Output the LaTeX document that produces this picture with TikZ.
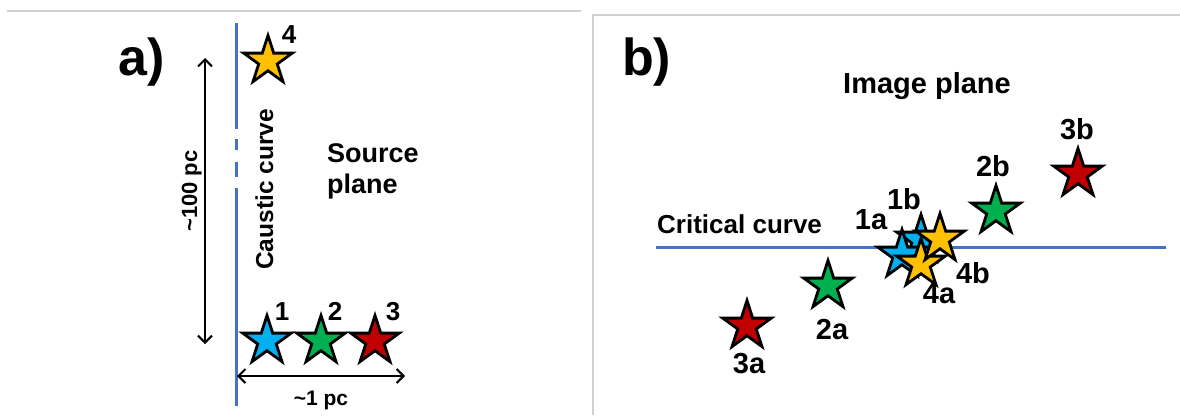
\documentclass[tikz,border=0pt]{standalone}
\usepackage{fontspec}
\setmainfont{Liberation Sans}
\usetikzlibrary{shapes.geometric,arrows.meta}
\definecolor{starblue}{HTML}{00B0F0}
\definecolor{stargreen}{HTML}{00B050}
\definecolor{starred}{HTML}{C00000}
\definecolor{staryellow}{HTML}{FFC000}
\definecolor{curveblue}{HTML}{4472C4}
\definecolor{framegray}{HTML}{D0D0D0}
\tikzset{
  starnode/.style={star, star points=5, star point ratio=2.618, minimum size=51pt,
    inner sep=0pt, draw=black, line width=2.8pt, fill=#1},
  panellabel/.style={font=\bfseries\fontsize{52}{60}\selectfont, inner sep=0pt, anchor=base west},
  titletext/.style={font=\bfseries\fontsize{#1}{#1}\selectfont, inner sep=0pt},
  numlabel/.style={font=\bfseries\fontsize{#1}{#1}\selectfont, inner sep=0pt, anchor=base},
  curveline/.style={draw=curveblue, line width=3pt},
  dimarrow/.style={draw=black, line width=2pt, {Straight Barb[length=7pt,width=14pt,line width=2pt]}-{Straight Barb[length=7pt,width=14pt,line width=2pt]}},
  frameline/.style={draw=framegray, line width=1.5pt}
}
\begin{document}
\begin{tikzpicture}[x=1pt,y=-1pt]
\useasboundingbox (0,0) rectangle (1180,415);
% panel frames
\coordinate (fa1) at (7,11); \coordinate (fa2) at (581,11);
\draw[frameline] (fa1) -- (fa2);
\coordinate (fb0) at (593,415); \coordinate (fb1) at (593,15); \coordinate (fb2) at (1180,15);
\draw[frameline] (fb0) -- (fb1) -- (fb2);

% ---------- panel a ----------
\node[panellabel] (la) at (118,75) {a)};
% caustic curve
\coordinate (c1) at (236,23);  \coordinate (c2) at (236,129);
\coordinate (c3) at (236,139); \coordinate (c4) at (236,150);
\coordinate (c5) at (236,162); \coordinate (c6) at (236,177);
\coordinate (c7) at (236,188); \coordinate (c8) at (236,406);
\draw[curveline] (c1) -- (c2);
\draw[curveline] (c3) -- (c4);
\draw[curveline] (c5) -- (c6);
\draw[curveline] (c7) -- (c8);
\node[titletext=24.5, rotate=90, anchor=base west] (caus) at (273,270) {Caustic curve};
% dimension arrows
\coordinate (vtop) at (205,58); \coordinate (vbot) at (205,344);
\draw[dimarrow] (vtop) -- (vbot);
\node[titletext=22, rotate=90, anchor=base west] (hundred) at (197,232) {\textasciitilde 100 pc};
\coordinate (hl) at (237,376); \coordinate (hr) at (405,376);
\draw[dimarrow] (hl) -- (hr);
\node[titletext=21, anchor=base] (onepc) at (321,405) {\textasciitilde 1 pc};
% source plane text
\node[titletext=27, anchor=base west] (src1) at (327,162) {Source};
\node[titletext=27, anchor=base west] (src2) at (327,193) {plane};
% source stars
\node[starnode=staryellow] (s4) at (268,61) {};
\node[starnode=starblue] (s1) at (267,341) {};
\node[starnode=stargreen] (s2) at (321,341) {};
\node[starnode=starred] (s3) at (375,341) {};
\node[numlabel=26] (n4) at (289,43) {4};
\node[numlabel=26] (n1) at (282,320) {1};
\node[numlabel=26] (n2) at (335,320) {2};
\node[numlabel=26] (n3) at (393,320) {3};

% ---------- panel b ----------
\node[panellabel] (lb) at (622,75) {b)};
\node[titletext=29, anchor=base west] (imgpl) at (843,93) {Image plane};
\node[titletext=26, anchor=base west] (crit) at (657,233) {Critical curve};
\coordinate (cc1) at (656,247); \coordinate (cc2) at (1166,247);
\draw[curveline] (cc1) -- (cc2);
% image stars
\node[starnode=starred] (i3a) at (747,326) {};
\node[starnode=stargreen] (i2a) at (828,286) {};
\node[starnode=starblue] (i1b) at (921,240) {};
\node[starnode=starblue] (i1a) at (902,255) {};
\node[starnode=staryellow] (i4a) at (921,264) {};
\node[starnode=staryellow] (i4b) at (940,239) {};
\node[starnode=stargreen] (i2b) at (996,211) {};
\node[starnode=starred] (i3b) at (1078,174) {};
% image labels
\node[numlabel=29] (t3b) at (1077,139) {3b};
\node[numlabel=29] (t2b) at (993,176) {2b};
\node[numlabel=29] (t1b) at (904,209) {1b};
\node[numlabel=29] (t1a) at (871,229) {1a};
\node[numlabel=29] (t4b) at (973,283) {4b};
\node[numlabel=29] (t4a) at (939,303) {4a};
\node[numlabel=29] (t2a) at (832,339) {2a};
\node[numlabel=29] (t3a) at (749,373) {3a};
\end{tikzpicture}
\end{document}
